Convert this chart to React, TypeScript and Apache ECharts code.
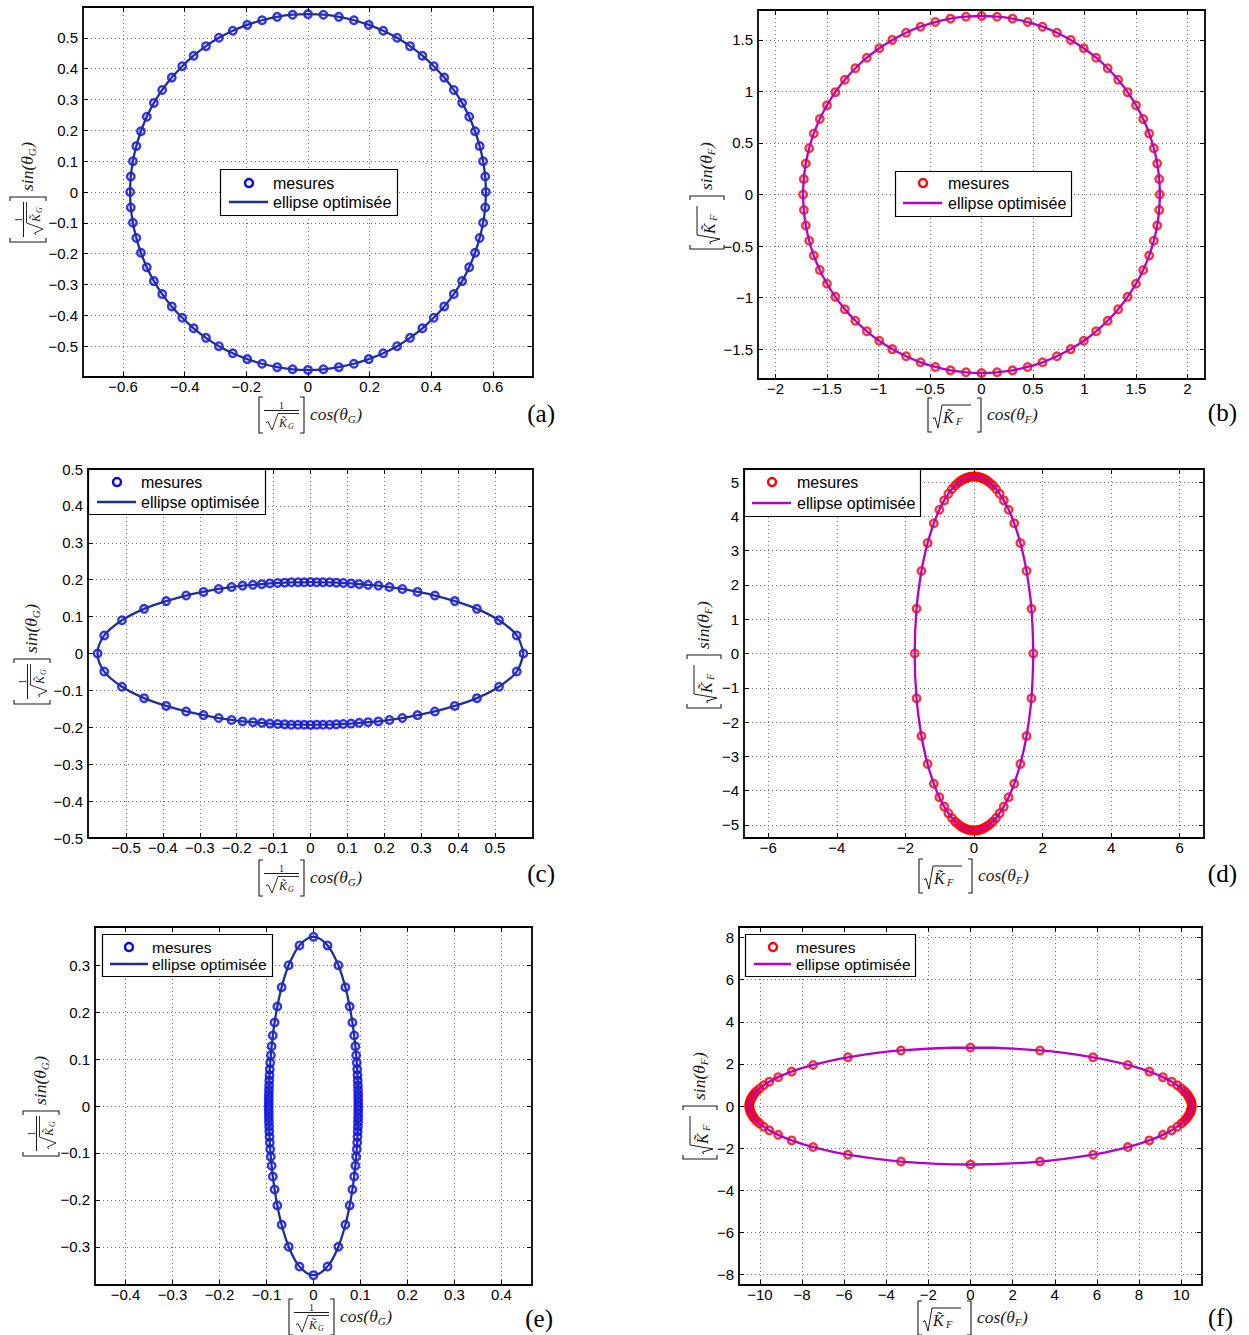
import React, { useEffect, useRef } from 'react';
import * as echarts from 'echarts';

const SANS = '"Liberation Sans", Arial, Helvetica, sans-serif';
const SERIF = '"Liberation Serif", "Times New Roman", serif';

const measuresA: number[][] = [
  [0.577,0],[0.575,0.05],[0.568,0.1],[0.557,0.149],[0.542,0.197],[0.523,0.244],[0.5,0.289],[0.473,0.331],[0.442,0.371],[0.408,0.408],[0.371,0.442],[0.331,0.473],[0.289,0.5],[0.244,0.523],[0.197,0.542],[0.149,0.557],[0.1,0.568],[0.05,0.575],[0,0.577],
  [-0.05,0.575],[-0.1,0.568],[-0.149,0.557],[-0.197,0.542],[-0.244,0.523],[-0.289,0.5],[-0.331,0.473],[-0.371,0.442],[-0.408,0.408],[-0.442,0.371],[-0.473,0.331],[-0.5,0.289],[-0.523,0.244],[-0.542,0.197],[-0.557,0.149],[-0.568,0.1],[-0.575,0.05],[-0.577,0],
  [-0.575,-0.05],[-0.568,-0.1],[-0.557,-0.149],[-0.542,-0.197],[-0.523,-0.244],[-0.5,-0.289],[-0.473,-0.331],[-0.442,-0.371],[-0.408,-0.408],[-0.371,-0.442],[-0.331,-0.473],[-0.289,-0.5],[-0.244,-0.523],[-0.197,-0.542],[-0.149,-0.557],[-0.1,-0.568],[-0.05,-0.575],[0,-0.577],
  [0.05,-0.575],[0.1,-0.568],[0.149,-0.557],[0.197,-0.542],[0.244,-0.523],[0.289,-0.5],[0.331,-0.473],[0.371,-0.442],[0.408,-0.408],[0.442,-0.371],[0.473,-0.331],[0.5,-0.289],[0.523,-0.244],[0.542,-0.197],[0.557,-0.149],[0.568,-0.1],[0.575,-0.05]
];

const measuresB: number[][] = [
  [1.732,0],[1.725,0.151],[1.706,0.301],[1.673,0.448],[1.628,0.592],[1.57,0.732],[1.5,0.866],[1.419,0.993],[1.327,1.113],[1.225,1.225],[1.113,1.327],[0.993,1.419],[0.866,1.5],[0.732,1.57],[0.592,1.628],[0.448,1.673],[0.301,1.706],[0.151,1.725],[0,1.732],
  [-0.151,1.725],[-0.301,1.706],[-0.448,1.673],[-0.592,1.628],[-0.732,1.57],[-0.866,1.5],[-0.993,1.419],[-1.113,1.327],[-1.225,1.225],[-1.327,1.113],[-1.419,0.993],[-1.5,0.866],[-1.57,0.732],[-1.628,0.592],[-1.673,0.448],[-1.706,0.301],[-1.725,0.151],[-1.732,0],
  [-1.725,-0.151],[-1.706,-0.301],[-1.673,-0.448],[-1.628,-0.592],[-1.57,-0.732],[-1.5,-0.866],[-1.419,-0.993],[-1.327,-1.113],[-1.225,-1.225],[-1.113,-1.327],[-0.993,-1.419],[-0.866,-1.5],[-0.732,-1.57],[-0.592,-1.628],[-0.448,-1.673],[-0.301,-1.706],[-0.151,-1.725],[0,-1.732],
  [0.151,-1.725],[0.301,-1.706],[0.448,-1.673],[0.592,-1.628],[0.732,-1.57],[0.866,-1.5],[0.993,-1.419],[1.113,-1.327],[1.225,-1.225],[1.327,-1.113],[1.419,-0.993],[1.5,-0.866],[1.57,-0.732],[1.628,-0.592],[1.673,-0.448],[1.706,-0.301],[1.725,-0.151]
];

const measuresC: number[][] = [
  [0.577,0],[0.559,0.049],[0.511,0.09],[0.451,0.121],[0.391,0.142],[0.337,0.157],[0.29,0.167],[0.249,0.175],[0.214,0.18],[0.184,0.184],[0.156,0.186],[0.132,0.188],[0.11,0.19],[0.089,0.191],[0.07,0.192],[0.052,0.193],[0.034,0.193],[0.017,0.193],[0,0.1935],
  [-0.017,0.193],[-0.034,0.193],[-0.052,0.193],[-0.07,0.192],[-0.089,0.191],[-0.11,0.19],[-0.132,0.188],[-0.156,0.186],[-0.184,0.184],[-0.214,0.18],[-0.249,0.175],[-0.29,0.167],[-0.337,0.157],[-0.391,0.142],[-0.451,0.121],[-0.511,0.09],[-0.559,0.049],[-0.577,0],
  [-0.559,-0.049],[-0.511,-0.09],[-0.451,-0.121],[-0.391,-0.142],[-0.337,-0.157],[-0.29,-0.167],[-0.249,-0.175],[-0.214,-0.18],[-0.184,-0.184],[-0.156,-0.186],[-0.132,-0.188],[-0.11,-0.19],[-0.089,-0.191],[-0.07,-0.192],[-0.052,-0.193],[-0.034,-0.193],[-0.017,-0.193],[0,-0.1935],
  [0.017,-0.193],[0.034,-0.193],[0.052,-0.193],[0.07,-0.192],[0.089,-0.191],[0.11,-0.19],[0.132,-0.188],[0.156,-0.186],[0.184,-0.184],[0.214,-0.18],[0.249,-0.175],[0.29,-0.167],[0.337,-0.157],[0.391,-0.142],[0.451,-0.121],[0.511,-0.09],[0.559,-0.049]
];

const measuresD: number[][] = [
  [1.731,0],[1.676,1.306],[1.533,2.407],[1.353,3.227],[1.173,3.801],[1.011,4.196],[0.869,4.469],[0.748,4.661],[0.642,4.8],[0.551,4.901],[0.469,4.976],[0.396,5.032],[0.329,5.075],[0.267,5.107],[0.21,5.131],[0.155,5.147],[0.102,5.158],[0.051,5.166],[0,5.168],
  [-0.051,5.166],[-0.102,5.158],[-0.155,5.147],[-0.21,5.131],[-0.267,5.107],[-0.329,5.075],[-0.396,5.032],[-0.469,4.976],[-0.551,4.901],[-0.642,4.8],[-0.748,4.661],[-0.869,4.469],[-1.011,4.196],[-1.173,3.801],[-1.353,3.227],[-1.533,2.407],[-1.676,1.306],[-1.731,0],
  [-1.676,-1.306],[-1.533,-2.407],[-1.353,-3.227],[-1.173,-3.801],[-1.011,-4.196],[-0.869,-4.469],[-0.748,-4.661],[-0.642,-4.8],[-0.551,-4.901],[-0.469,-4.976],[-0.396,-5.032],[-0.329,-5.075],[-0.267,-5.107],[-0.21,-5.131],[-0.155,-5.147],[-0.102,-5.158],[-0.051,-5.166],[0,-5.168],
  [0.051,-5.166],[0.102,-5.158],[0.155,-5.147],[0.21,-5.131],[0.267,-5.107],[0.329,-5.075],[0.396,-5.032],[0.469,-4.976],[0.551,-4.901],[0.642,-4.8],[0.748,-4.661],[0.869,-4.469],[1.011,-4.196],[1.173,-3.801],[1.353,-3.227],[1.533,-2.407],[1.676,-1.306]
];

const measuresE: number[][] = [
  [0.0952,0],[0.0952,0.0083],[0.0951,0.0168],[0.095,0.0255],[0.0948,0.0345],[0.0945,0.0441],[0.0941,0.0544],[0.0936,0.0656],[0.093,0.078],[0.0921,0.0921],[0.0908,0.1082],[0.0891,0.1272],[0.0866,0.15],[0.0828,0.1776],[0.077,0.2116],[0.0678,0.2529],[0.0528,0.2995],[0.0299,0.3418],[0,0.36],
  [-0.0299,0.3418],[-0.0528,0.2995],[-0.0678,0.2529],[-0.077,0.2116],[-0.0828,0.1776],[-0.0866,0.15],[-0.0891,0.1272],[-0.0908,0.1082],[-0.0921,0.0921],[-0.093,0.078],[-0.0936,0.0656],[-0.0941,0.0544],[-0.0945,0.0441],[-0.0948,0.0345],[-0.095,0.0255],[-0.0951,0.0168],[-0.0952,0.0083],[-0.0952,0],
  [-0.0952,-0.0083],[-0.0951,-0.0168],[-0.095,-0.0255],[-0.0948,-0.0345],[-0.0945,-0.0441],[-0.0941,-0.0544],[-0.0936,-0.0656],[-0.093,-0.078],[-0.0921,-0.0921],[-0.0908,-0.1082],[-0.0891,-0.1272],[-0.0866,-0.15],[-0.0828,-0.1776],[-0.077,-0.2116],[-0.0678,-0.2529],[-0.0528,-0.2995],[-0.0299,-0.3418],[0,-0.36],
  [0.0299,-0.3418],[0.0528,-0.2995],[0.0678,-0.2529],[0.077,-0.2116],[0.0828,-0.1776],[0.0866,-0.15],[0.0891,-0.1272],[0.0908,-0.1082],[0.0921,-0.0921],[0.093,-0.078],[0.0936,-0.0656],[0.0941,-0.0544],[0.0945,-0.0441],[0.0948,-0.0345],[0.095,-0.0255],[0.0951,-0.0168],[0.0952,-0.0083]
];

const measuresF: number[][] = [
  [10.5,0],[10.5,0.064],[10.49,0.13],[10.47,0.196],[10.45,0.266],[10.42,0.34],[10.37,0.42],[10.32,0.506],[10.25,0.602],[10.15,0.711],[10.01,0.835],[9.82,0.982],[9.55,1.157],[9.13,1.37],[8.49,1.633],[7.47,1.951],[5.82,2.311],[3.3,2.637],[0,2.778],
  [-3.3,2.637],[-5.82,2.311],[-7.47,1.951],[-8.49,1.633],[-9.13,1.37],[-9.55,1.157],[-9.82,0.982],[-10.01,0.835],[-10.15,0.711],[-10.25,0.602],[-10.32,0.506],[-10.37,0.42],[-10.42,0.34],[-10.45,0.266],[-10.47,0.196],[-10.49,0.13],[-10.5,0.064],[-10.5,0],
  [-10.5,-0.064],[-10.49,-0.13],[-10.47,-0.196],[-10.45,-0.266],[-10.42,-0.34],[-10.37,-0.42],[-10.32,-0.506],[-10.25,-0.602],[-10.15,-0.711],[-10.01,-0.835],[-9.82,-0.982],[-9.55,-1.157],[-9.13,-1.37],[-8.49,-1.633],[-7.47,-1.951],[-5.82,-2.311],[-3.3,-2.637],[0,-2.778],
  [3.3,-2.637],[5.82,-2.311],[7.47,-1.951],[8.49,-1.633],[9.13,-1.37],[9.55,-1.157],[9.82,-0.982],[10.01,-0.835],[10.15,-0.711],[10.25,-0.602],[10.32,-0.506],[10.37,-0.42],[10.42,-0.34],[10.45,-0.266],[10.47,-0.196],[10.49,-0.13],[10.5,-0.064]
];

// ---- tick labels ----
const ticksAX = [-0.6, -0.4, -0.2, 0, 0.2, 0.4, 0.6];
const ticksAY = [-0.5, -0.4, -0.3, -0.2, -0.1, 0, 0.1, 0.2, 0.3, 0.4, 0.5];
const ticksBX = [-2, -1.5, -1, -0.5, 0, 0.5, 1, 1.5, 2];
const ticksBY = [-1.5, -1, -0.5, 0, 0.5, 1, 1.5];
const ticksCX = [-0.5, -0.4, -0.3, -0.2, -0.1, 0, 0.1, 0.2, 0.3, 0.4, 0.5];
const ticksCY = [-0.5, -0.4, -0.3, -0.2, -0.1, 0, 0.1, 0.2, 0.3, 0.4, 0.5];
const ticksDX = [-6, -4, -2, 0, 2, 4, 6];
const ticksDY = [-5, -4, -3, -2, -1, 0, 1, 2, 3, 4, 5];
const ticksEX = [-0.4, -0.3, -0.2, -0.1, 0, 0.1, 0.2, 0.3, 0.4];
const ticksEY = [-0.3, -0.2, -0.1, 0, 0.1, 0.2, 0.3];
const ticksFX = [-10, -8, -6, -4, -2, 0, 2, 4, 6, 8, 10];
const ticksFY = [-8, -6, -4, -2, 0, 2, 4, 6, 8];

const legendLabels = ['mesures', 'ellipse optimisée'];
const panelLetters = ['(a)', '(b)', '(c)', '(d)', '(e)', '(f)'];
const panelKinds = ['G', 'F', 'G', 'F', 'G', 'F'];

const G_MARK = '#0000ff';
const G_LINE = '#1f3093';
const F_MARK = '#ff0000';
const F_LINE = '#b400c4';

type Panel = {
  data: number[][];
  xTicks: number[]; yTicks: number[];
  xLim: number; yLim: number;
  grid: { left: number; top: number; width: number; height: number };
  legend: { x: number; y: number; w: number; h: number; mx: number; my: number; lx1: number; lx2: number; ly: number; tx: number; fs: number };
  xLabel: [number, number]; yLabel: [number, number];
  letter: [number, number];
};

const panels: Panel[] = [
  {
    data: measuresA, xTicks: ticksAX, yTicks: ticksAY, xLim: 0.73, yLim: 0.6,
    grid: { left: 83, top: 7, width: 450, height: 370 },
    legend: { x: 220, y: 169, w: 177, h: 46, mx: 249, my: 183, lx1: 229, lx2: 268, ly: 202, tx: 273, fs: 16 },
    xLabel: [258, 415], yLabel: [28, 243], letter: [555, 413]
  },
  {
    data: measuresB, xTicks: ticksBX, yTicks: ticksBY, xLim: 2.17, yLim: 1.79,
    grid: { left: 758, top: 10, width: 447, height: 369 },
    legend: { x: 895, y: 171, w: 176, h: 45, mx: 923, my: 183, lx1: 903, lx2: 942, ly: 203, tx: 948, fs: 16 },
    xLabel: [927, 415], yLabel: [707, 250], letter: [1237, 412]
  },
  {
    data: measuresC, xTicks: ticksCX, yTicks: ticksCY, xLim: 0.603, yLim: 0.5,
    grid: { left: 88, top: 469, width: 445, height: 369 },
    legend: { x: 88, y: 469, w: 177, h: 45, mx: 117, my: 482, lx1: 97, lx2: 136, ly: 502, tx: 141, fs: 16 },
    xLabel: [258, 878], yLabel: [32, 705], letter: [555, 873]
  },
  {
    data: measuresD, xTicks: ticksDX, yTicks: ticksDY, xLim: 6.71, yLim: 5.385,
    grid: { left: 744, top: 469, width: 460, height: 369 },
    legend: { x: 744, y: 469, w: 176, h: 47, mx: 772, my: 482, lx1: 752, lx2: 791, ly: 503, tx: 797, fs: 16 },
    xLabel: [918, 876], yLabel: [704, 709], letter: [1237, 873]
  },
  {
    data: measuresE, xTicks: ticksEX, yTicks: ticksEY, xLim: 0.465, yLim: 0.381,
    grid: { left: 95, top: 927, width: 437, height: 358 },
    legend: { x: 102, y: 934, w: 170, h: 42, mx: 129, my: 947, lx1: 110, lx2: 148, ly: 964, tx: 152, fs: 15.5 },
    xLabel: [288, 1317], yLabel: [41, 1157], letter: [553, 1318]
  },
  {
    data: measuresF, xTicks: ticksFX, yTicks: ticksFY, xLim: 10.99, yLim: 8.5,
    grid: { left: 739, top: 927, width: 463, height: 358 },
    legend: { x: 745, y: 934, w: 170, h: 42, mx: 773, my: 947, lx1: 754, lx2: 791, ly: 964, tx: 796, fs: 15.5 },
    xLabel: [917, 1318], yLabel: [700, 1160], letter: [1233, 1317]
  }
];

let measureCtx: CanvasRenderingContext2D | null = null;
function tw(text: string, font: string): number {
  if (!measureCtx && typeof document !== 'undefined') {
    measureCtx = document.createElement('canvas').getContext('2d');
  }
  if (!measureCtx) return text.length * 8;
  measureCtx.font = font;
  return measureCtx.measureText(text).width;
}

const fmt = (v: number) => String(Math.round(v * 10000) / 10000).replace('-', '\u2212');

function mathLabel(kind: string, fn: string, ox: number, oy: number, vertical: boolean) {
  const col = '#1a1a1a';
  const ch: any[] = [];
  const ln = (pts: number[][], w = 1) => ({ type: 'polyline', shape: { points: pts }, style: { stroke: col, lineWidth: w, fill: 'none' } });
  const tx = (text: string, x: number, y: number, font: string, align = 'left') => ({
    type: 'text', x, y, style: { text, font, fill: col, align, verticalAlign: 'middle' }
  });
  let x0: number;
  if (kind === 'G') {
    ch.push(ln([[5, -18], [1, -18], [1, 18], [5, 18]], 1.1));
    ch.push(tx('1', 23.5, -10, `10px ${SERIF}`, 'center'));
    ch.push({ type: 'line', shape: { x1: 6, y1: -4.5, x2: 41, y2: -4.5 }, style: { stroke: col, lineWidth: 1 } });
    ch.push(ln([[8, 8], [10, 6.5], [14, 15], [20, -1.5], [41, -1.5]], 0.9));
    ch.push(tx('K\u0303', 21, 8, `italic 12px ${SERIF}`));
    ch.push(tx('G', 30, 11, `italic 8px ${SERIF}`));
    ch.push(ln([[42, -18], [46, -18], [46, 18], [42, 18]], 1.1));
    x0 = 52;
  } else {
    ch.push(ln([[5, -17], [1, -17], [1, 17], [5, 17]], 1.1));
    ch.push(ln([[6, 4], [8, 2.5], [11, 13], [15, -10], [44, -10]], 1));
    ch.push(tx('K\u0303', 16, 2, `italic 16px ${SERIF}`));
    ch.push(tx('F', 29, 6, `italic 10.5px ${SERIF}`));
    ch.push(ln([[50, -17], [54, -17], [54, 17], [50, 17]], 1.1));
    x0 = 60;
  }
  const sub = kind;
  const f1 = `italic 17.5px ${SERIF}`;
  const f2 = `italic 11px ${SERIF}`;
  const t1 = `${fn}(\u03b8`;
  ch.push(tx(t1, x0, -1, f1));
  let x = x0 + tw(t1, f1);
  ch.push(tx(sub, x, 4, f2));
  x += tw(sub, f2) + 0.5;
  ch.push(tx(')', x, -1, f1));
  return { type: 'group', x: ox, y: oy, rotation: vertical ? Math.PI / 2 : 0, children: ch, silent: true, z: 100 };
}

function legendEls(p: Panel, markColor: string, lineColor: string) {
  const L = p.legend;
  const font = `${L.fs}px ${SANS}`;
  return [
    { type: 'rect', shape: { x: L.x + 0.5, y: L.y + 0.5, width: L.w, height: L.h }, style: { fill: '#fff', stroke: '#000', lineWidth: 1.2 }, z: 100 },
    { type: 'circle', shape: { cx: L.mx, cy: L.my, r: 4 }, style: { fill: 'none', stroke: markColor, lineWidth: 2.4 }, z: 101 },
    { type: 'text', x: L.tx, y: L.my, style: { text: legendLabels[0], font, fill: '#000', verticalAlign: 'middle' }, z: 101 },
    { type: 'line', shape: { x1: L.lx1, y1: L.ly, x2: L.lx2, y2: L.ly }, style: { stroke: lineColor, lineWidth: 2.4 }, z: 101 },
    { type: 'text', x: L.tx, y: L.ly, style: { text: legendLabels[1], font, fill: '#000', verticalAlign: 'middle' }, z: 101 }
  ];
}

function buildOption() {
  const grid: any[] = [];
  const xAxis: any[] = [];
  const yAxis: any[] = [];
  const series: any[] = [];
  const graphics: any[] = [];
  const axisLine = { show: true, onZero: false, lineStyle: { color: '#000', width: 1.8 } };
  const splitLine = { show: true, lineStyle: { color: '#707070', width: 1, type: [1, 3] } };

  panels.forEach((p, i) => {
    const kind = panelKinds[i];
    const markColor = kind === 'G' ? G_MARK : F_MARK;
    const lineColor = kind === 'G' ? G_LINE : F_LINE;
    grid.push({ left: p.grid.left, top: p.grid.top, width: p.grid.width, height: p.grid.height, containLabel: false, outerBoundsMode: 'none' });
    const tick = (vals: number[]) => ({ show: true, inside: true, length: 5, customValues: vals, lineStyle: { color: '#000', width: 1 } });
    xAxis.push({
      type: 'value', gridIndex: i, position: 'bottom', min: -p.xLim, max: p.xLim,
      axisLine, axisTick: tick(p.xTicks), splitLine,
      axisLabel: { show: true, customValues: p.xTicks, formatter: fmt, color: '#000', fontSize: 15, lineHeight: 11, fontFamily: SANS, margin: 4 }
    });
    xAxis.push({
      type: 'value', gridIndex: i, position: 'top', min: -p.xLim, max: p.xLim,
      axisLine, axisTick: tick(p.xTicks), splitLine: { show: false }, axisLabel: { show: false }
    });
    yAxis.push({
      type: 'value', gridIndex: i, position: 'left', min: -p.yLim, max: p.yLim,
      axisLine, axisTick: tick(p.yTicks), splitLine,
      axisLabel: { show: true, customValues: p.yTicks, formatter: fmt, color: '#000', fontSize: 15, fontFamily: SANS, margin: 5 }
    });
    yAxis.push({
      type: 'value', gridIndex: i, position: 'right', min: -p.yLim, max: p.yLim,
      axisLine, axisTick: tick(p.yTicks), splitLine: { show: false }, axisLabel: { show: false }
    });
    series.push({
      type: 'scatter', name: legendLabels[0], xAxisIndex: 2 * i, yAxisIndex: 2 * i,
      data: p.data, symbol: 'circle', symbolSize: 7.5,
      itemStyle: { color: 'rgba(0,0,0,0)', borderColor: markColor, borderWidth: 2.4 },
      z: 2, silent: true
    });
    series.push({
      type: 'line', name: legendLabels[1], xAxisIndex: 2 * i, yAxisIndex: 2 * i,
      data: [...p.data, p.data[0]], showSymbol: false, symbol: 'none', smooth: 0.35,
      lineStyle: { color: lineColor, width: 2.3 }, z: 3, silent: true
    });
    graphics.push(...legendEls(p, markColor, lineColor));
    graphics.push(mathLabel(kind, 'cos', p.xLabel[0], p.xLabel[1], false));
    graphics.push(mathLabel(kind, 'sin', p.yLabel[0], p.yLabel[1], true));
    graphics.push({
      type: 'text', x: p.letter[0], y: p.letter[1], z: 100,
      style: { text: panelLetters[i], font: `25px ${SERIF}`, fill: '#000', align: 'right', verticalAlign: 'middle' }
    });
  });

  return {
    animation: false,
    backgroundColor: '#ffffff',
    grid, xAxis, yAxis, series,
    graphic: { elements: graphics }
  };
}

export default function App() {
  const ref = useRef<HTMLDivElement>(null);
  useEffect(() => {
    if (!ref.current) return;
    const chart = echarts.init(ref.current, undefined, { renderer: 'svg', width: 1249, height: 1335 });
    chart.setOption(buildOption() as any);
    return () => chart.dispose();
  }, []);
  return (
    <div
      ref={ref}
      style={{ position: 'absolute', left: 0, top: 0, width: 1249, height: 1335, background: '#fff' }}
    />
  );
}
